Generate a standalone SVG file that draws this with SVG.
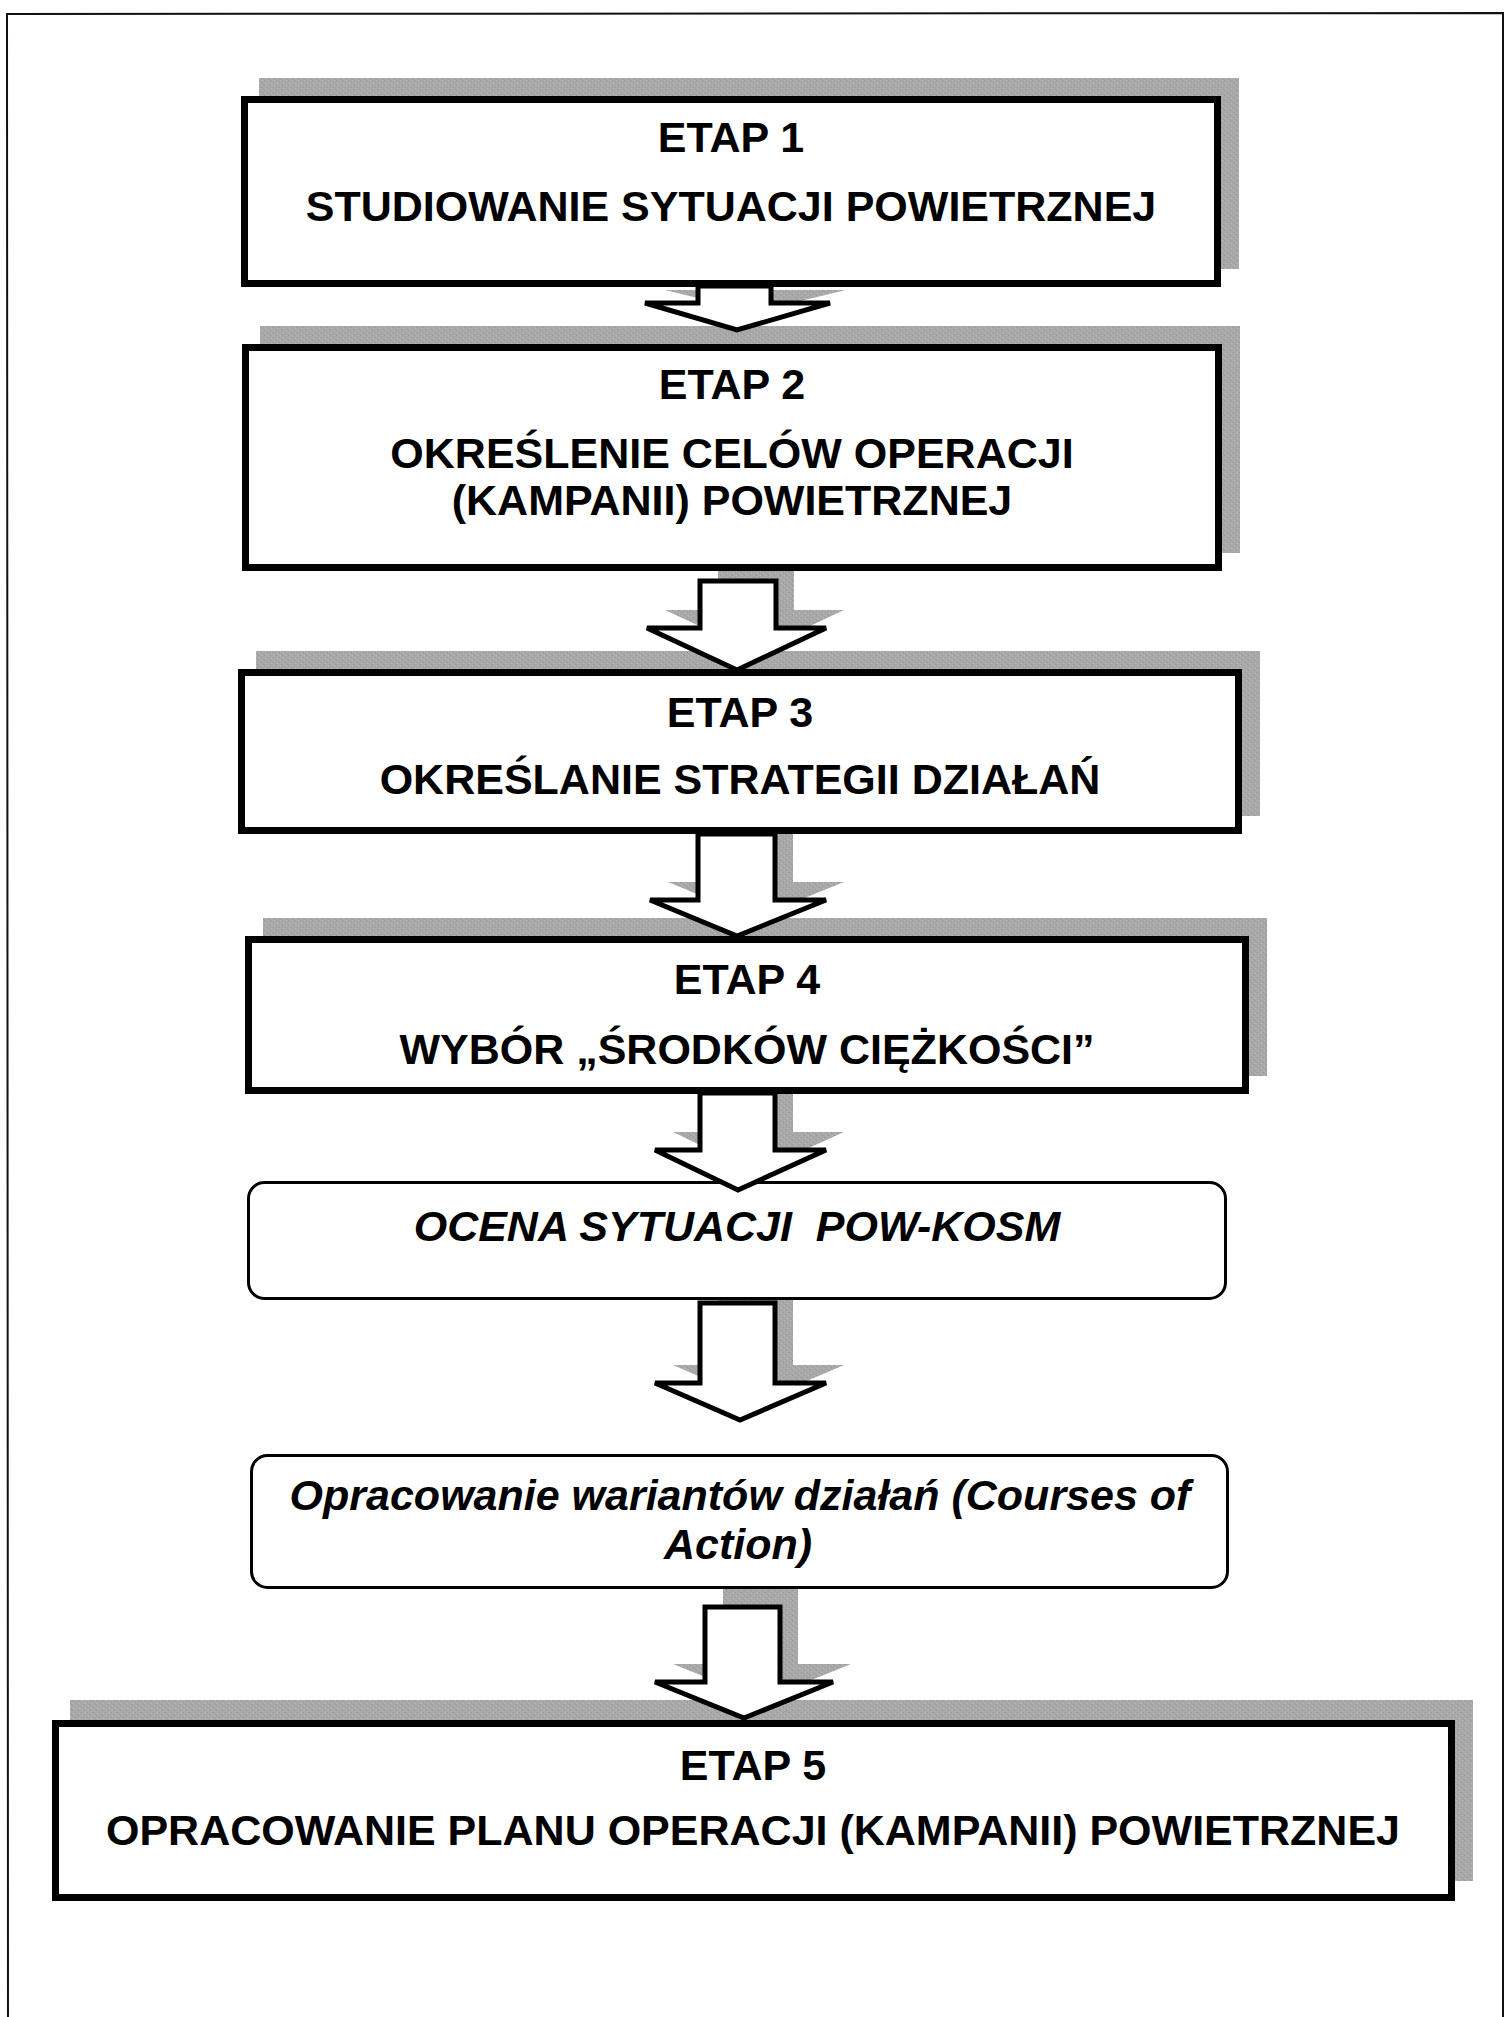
<svg xmlns="http://www.w3.org/2000/svg" width="1509" height="2017" viewBox="0 0 1509 2017">
  <style>
    .box { fill: #ffffff; stroke: #000000; stroke-width: 7; }
    .rbox { fill: #ffffff; stroke: #000000; stroke-width: 3; }
    .shadow { fill: url(#halftone); stroke: none; }
    .arrow { fill: #ffffff; stroke: #000000; stroke-width: 5; stroke-linejoin: miter; }
    .t { font-family: "Liberation Sans", Arial, sans-serif; font-weight: bold; font-size: 43px; fill: #000000; text-anchor: middle; }
    .ti { font-family: "Liberation Sans", Arial, sans-serif; font-weight: bold; font-style: italic; font-size: 43px; fill: #000000; text-anchor: middle; }
    .frame { fill: none; stroke: #111111; stroke-width: 2; }
  </style>
  <defs>
    <!-- fine grey screen used for the drop shadows -->
    <pattern id="halftone" width="6" height="5" patternUnits="userSpaceOnUse">
      <rect width="6" height="5" fill="#a9a9a9"/>
      <rect x="0" y="0" width="1" height="1" fill="#979797"/>
      <rect x="3" y="2" width="1" height="1" fill="#979797"/>
      <rect x="5" y="4" width="1" height="1" fill="#999999"/>
      <rect x="1" y="3" width="1" height="1" fill="#b8b8b8"/>
      <rect x="4" y="0" width="1" height="1" fill="#b8b8b8"/>
    </pattern>
  </defs>

  <rect width="1509" height="2017" fill="#ffffff"/>

  <!-- page frame -->
  <path class="frame" d="M8,2017 L7,14 L1503,13 L1503,2017"/>

  <!-- stage 1 -->
  <g id="etap1">
    <rect class="shadow" x="259" y="78" width="980" height="191"/>
    <rect class="box" x="244.5" y="99.5" width="973" height="184"/>
    <text class="t" x="731" y="152">ETAP 1</text>
    <text class="t" x="731" y="221">STUDIOWANIE SYTUACJI POWIETRZNEJ</text>
  </g>

  <!-- stage 2 -->
  <g id="etap2">
    <rect class="shadow" x="260" y="326" width="980" height="227"/>
    <rect class="box" x="245.5" y="347.5" width="973" height="220"/>
    <text class="t" x="732" y="399">ETAP 2</text>
    <text class="t" x="732" y="468">OKREŚLENIE CELÓW OPERACJI</text>
    <text class="t" x="732" y="515">(KAMPANII) POWIETRZNEJ</text>
  </g>

  <!-- stage 3 -->
  <g id="etap3">
    <rect class="shadow" x="256" y="651" width="1004" height="165"/>
    <rect class="box" x="241.5" y="672.5" width="997" height="158"/>
    <text class="t" x="740" y="727">ETAP 3</text>
    <text class="t" x="740" y="794">OKREŚLANIE STRATEGII DZIAŁAŃ</text>
  </g>

  <!-- stage 4 -->
  <g id="etap4">
    <rect class="shadow" x="263" y="918" width="1004" height="158"/>
    <rect class="box" x="248.5" y="939.5" width="997" height="151"/>
    <text class="t" x="747" y="994">ETAP 4</text>
    <text class="t" x="747" y="1064">WYBÓR „ŚRODKÓW CIĘŻKOŚCI”</text>
  </g>

  <!-- assessment step -->
  <g id="ocena">
    <rect class="rbox" x="248.5" y="1182.5" width="977" height="116" rx="16" ry="16"/>
    <text class="ti" x="737" y="1241" xml:space="preserve">OCENA SYTUACJI  POW-KOSM</text>
  </g>

  <!-- courses of action step -->
  <g id="warianty">
    <rect class="rbox" x="251.5" y="1455.5" width="976" height="132" rx="16" ry="16"/>
    <text class="ti" x="740" y="1510">Opracowanie wariantów działań (Courses of</text>
    <text class="ti" x="738" y="1559">Action)</text>
  </g>

  <!-- stage 5 -->
  <g id="etap5">
    <rect class="shadow" x="70" y="1700" width="1403" height="181"/>
    <rect class="box" x="55.5" y="1723.5" width="1396" height="174"/>
    <text class="t" x="753" y="1780">ETAP 5</text>
    <text class="t" x="753" y="1845">OPRACOWANIE PLANU OPERACJI (KAMPANII) POWIETRZNEJ</text>
  </g>

  <!-- block arrows between the steps, each with its shadow -->
  <g id="connectors">
    <polygon class="shadow" points="665,290 755,312 846,290"/>
    <polygon class="arrow" points="698,286 698,303 645,303 737,330 830,303 771,303 771,286"/>

    <polygon class="shadow" points="718,571 718,610 665,610 755,652 844,610 794,610 794,571"/>
    <polygon class="arrow" points="700,581 700,628 647,628 737,670 826,628 776,628 776,581"/>

    <polygon class="shadow" points="716,834 716,882 668,882 755,918 844,882 793,882 793,834"/>
    <polygon class="arrow" points="698,834 698,900 650,900 737,936 826,900 775,900 775,834"/>

    <polygon class="shadow" points="718,1094 718,1132 673,1132 756,1172 844,1132 793,1132 793,1094"/>
    <polygon class="arrow" points="700,1093 700,1150 655,1150 738,1190 826,1150 775,1150 775,1093"/>

    <polygon class="shadow" points="718,1300 718,1365 673,1365 758,1402 844,1365 793,1365 793,1300"/>
    <polygon class="arrow" points="700,1303 700,1383 655,1383 740,1420 826,1383 775,1383 775,1303"/>

    <polygon class="shadow" points="723,1589 723,1664 673,1664 762,1700 851,1664 798,1664 798,1589"/>
    <polygon class="arrow" points="705,1607 705,1682 655,1682 744,1718 833,1682 780,1682 780,1607"/>
  </g>
</svg>
